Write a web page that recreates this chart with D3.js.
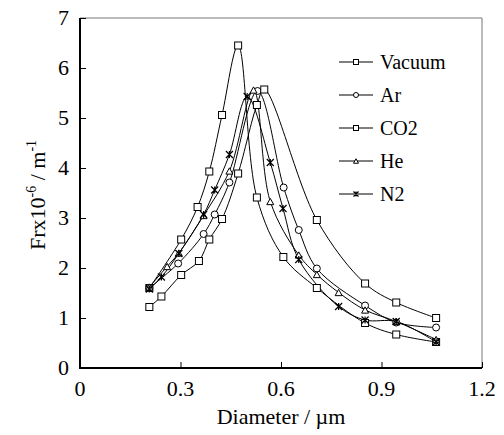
<!DOCTYPE html>
<html>
<head>
<meta charset="utf-8">
<script src="https://cdn.jsdelivr.net/npm/d3@7"></script>
<style>
  body { margin: 0; background: #fff; }
  svg text { font-family: "Liberation Serif", "DejaVu Serif", serif; }
</style>
</head>
<body>
<div id="chart"></div>
<script>
// series data
const seriesNames = ["Vacuum", "Ar", "CO2", "He", "N2"];
const seriesMarks = ["square", "circle", "square", "triangle", "star"];

const vacuumX = [0.207, 0.302, 0.351, 0.386, 0.424, 0.472, 0.528, 0.607, 0.707, 0.851, 0.944, 1.063];
const vacuumY = [1.60, 2.57, 3.22, 3.93, 5.06, 6.45, 3.41, 2.22, 1.60, 0.90, 0.67, 0.52];

const arX = [0.207, 0.293, 0.369, 0.402, 0.446, 0.530, 0.608, 0.653, 0.707, 0.851, 0.944, 1.063];
const arY = [1.60, 2.09, 2.68, 3.07, 3.71, 5.54, 3.61, 2.76, 1.99, 1.25, 0.91, 0.81];

const co2X = [0.207, 0.243, 0.302, 0.355, 0.386, 0.424, 0.472, 0.528, 0.550, 0.707, 0.851, 0.944, 1.063];
const co2Y = [1.22, 1.43, 1.86, 2.14, 2.57, 2.98, 3.89, 5.26, 5.57, 2.96, 1.69, 1.31, 1.00];

const heX = [0.207, 0.260, 0.295, 0.369, 0.446, 0.518, 0.568, 0.653, 0.707, 0.772, 0.851, 0.944, 1.063];
const heY = [1.62, 2.03, 2.30, 3.05, 3.94, 5.56, 3.33, 2.26, 1.87, 1.51, 1.16, 0.93, 0.57];

const n2X = [0.207, 0.243, 0.295, 0.369, 0.402, 0.446, 0.499, 0.568, 0.606, 0.653, 0.772, 0.851, 0.944, 1.063];
const n2Y = [1.58, 1.82, 2.29, 3.07, 3.56, 4.27, 5.43, 4.11, 3.19, 2.17, 1.23, 0.96, 0.93, 0.52];

const xTicks = [0, 0.3, 0.6, 0.9, 1.2];
const yTicks = [0, 1, 2, 3, 4, 5, 6, 7];

const seriesX = [vacuumX, arX, co2X, heX, n2X];
const seriesY = [vacuumY, arY, co2Y, heY, n2Y];

const width = 504, height = 435;
const margin = { top: 18, right: 22, bottom: 67, left: 80 };
const serif = "Liberation Serif, DejaVu Serif, serif";

const svg = d3.select("#chart").append("svg")
    .attr("width", width)
    .attr("height", height)
    .attr("font-family", serif);

const x = d3.scaleLinear().domain([0, 1.2]).range([margin.left, width - margin.right]);
const y = d3.scaleLinear().domain([0, 7]).range([height - margin.bottom, margin.top]);

// top and right frame lines
svg.append("line")
    .attr("x1", x(0)).attr("x2", x(1.2))
    .attr("y1", y(7)).attr("y2", y(7))
    .attr("stroke", "#777").attr("stroke-width", 1);
svg.append("line")
    .attr("x1", x(1.2)).attr("x2", x(1.2))
    .attr("y1", y(7)).attr("y2", y(0))
    .attr("stroke", "#777").attr("stroke-width", 1);

// axes with inward ticks
const xAxis = d3.axisTop(x).tickValues(xTicks).tickSize(6).tickFormat("");
const yAxis = d3.axisRight(y).tickValues(yTicks).tickSize(6).tickFormat("");

svg.append("g")
    .attr("transform", "translate(0," + y(0) + ")")
    .call(xAxis)
    .call(g => g.select(".domain").remove())
    .call(g => g.selectAll("line").attr("stroke", "#000"));

svg.append("g")
    .attr("transform", "translate(" + x(0) + ",0)")
    .call(yAxis)
    .call(g => g.select(".domain").remove())
    .call(g => g.selectAll("line").attr("stroke", "#000"));

svg.append("line")
    .attr("x1", x(0)).attr("x2", x(1.2))
    .attr("y1", y(0)).attr("y2", y(0))
    .attr("stroke", "#000").attr("stroke-width", 2);
svg.append("line")
    .attr("x1", x(0)).attr("x2", x(0))
    .attr("y1", y(7)).attr("y2", y(0) + 1)
    .attr("stroke", "#000").attr("stroke-width", 2);

// tick labels
svg.selectAll(".xlab")
    .data(xTicks)
    .enter().append("text")
    .attr("class", "xlab")
    .attr("x", d => x(d))
    .attr("y", y(0) + 28)
    .attr("text-anchor", "middle")
    .attr("font-family", serif)
    .attr("font-size", 22)
    .text(d => d === 0 ? "0" : d.toFixed(1));

svg.selectAll(".ylab")
    .data(yTicks)
    .enter().append("text")
    .attr("class", "ylab")
    .attr("x", x(0) - 11)
    .attr("y", d => y(d) + 7)
    .attr("text-anchor", "end")
    .attr("font-family", serif)
    .attr("font-size", 22)
    .text(d => d);

// axis titles
svg.append("text")
    .attr("x", (x(0) + x(1.2)) / 2)
    .attr("y", y(0) + 56)
    .attr("text-anchor", "middle")
    .attr("font-family", serif)
    .attr("font-size", 22)
    .text("Diameter / \u00b5m");

const yTitle = svg.append("text")
    .attr("transform", "translate(45," + 195 + ") rotate(-90)")
    .attr("text-anchor", "middle")
    .attr("font-family", serif)
    .attr("font-size", 22);
yTitle.append("tspan").text("Frx10");
yTitle.append("tspan").attr("font-size", 14).attr("dy", -9).text("-6");
yTitle.append("tspan").attr("dy", 9).text(" / m");
yTitle.append("tspan").attr("font-size", 14).attr("dy", -9).text("-1");

// marker drawing
function drawMarker(g, type, cx, cy, s) {
    if (type === "square") {
        g.append("rect")
            .attr("x", cx - s / 2).attr("y", cy - s / 2)
            .attr("width", s).attr("height", s)
            .attr("fill", "#fff").attr("stroke", "#000").attr("stroke-width", 1);
    } else if (type === "circle") {
        g.append("circle")
            .attr("cx", cx).attr("cy", cy).attr("r", s / 2)
            .attr("fill", "#fff").attr("stroke", "#000").attr("stroke-width", 1);
    } else if (type === "triangle") {
        const h = s * 0.9;
        g.append("path")
            .attr("d", "M" + cx + "," + (cy - h / 2) + "L" + (cx + s / 2) + "," + (cy + h / 2) + "L" + (cx - s / 2) + "," + (cy + h / 2) + "Z")
            .attr("fill", "#fff").attr("stroke", "#000").attr("stroke-width", 1);
    } else {
        const r = s / 2;
        g.append("path")
            .attr("d", "M" + (cx - r) + "," + (cy - r) + "L" + (cx + r) + "," + (cy + r) +
                "M" + (cx + r) + "," + (cy - r) + "L" + (cx - r) + "," + (cy + r) +
                "M" + cx + "," + (cy - r) + "L" + cx + "," + (cy + r))
            .attr("fill", "none").attr("stroke", "#000").attr("stroke-width", 1.2);
    }
}

const line = d3.line()
    .x(d => x(d[0]))
    .y(d => y(d[1]))
    .curve(d3.curveCatmullRom.alpha(0.5));

seriesNames.forEach((name, i) => {
    const pts = seriesX[i].map((v, j) => [v, seriesY[i][j]]);
    svg.append("path")
        .datum(pts)
        .attr("d", line)
        .attr("fill", "none")
        .attr("stroke", "#000")
        .attr("stroke-width", 1);
});

seriesNames.forEach((name, i) => {
    const g = svg.append("g").attr("class", "markers");
    seriesX[i].forEach((v, j) => {
        drawMarker(g, seriesMarks[i], x(v), y(seriesY[i][j]), 7);
    });
});

// legend
const legend = svg.append("g").attr("class", "legend");
seriesNames.forEach((name, i) => {
    const ly = 62 + i * 33;
    legend.append("line")
        .attr("x1", 339).attr("x2", 373)
        .attr("y1", ly).attr("y2", ly)
        .attr("stroke", "#000").attr("stroke-width", 1);
    drawMarker(legend, seriesMarks[i], 356, ly, 5);
    legend.append("text")
        .attr("x", 380)
        .attr("y", ly + 7)
        .attr("font-family", serif)
        .attr("font-size", 20)
        .text(name);
});
</script>
</body>
</html>
